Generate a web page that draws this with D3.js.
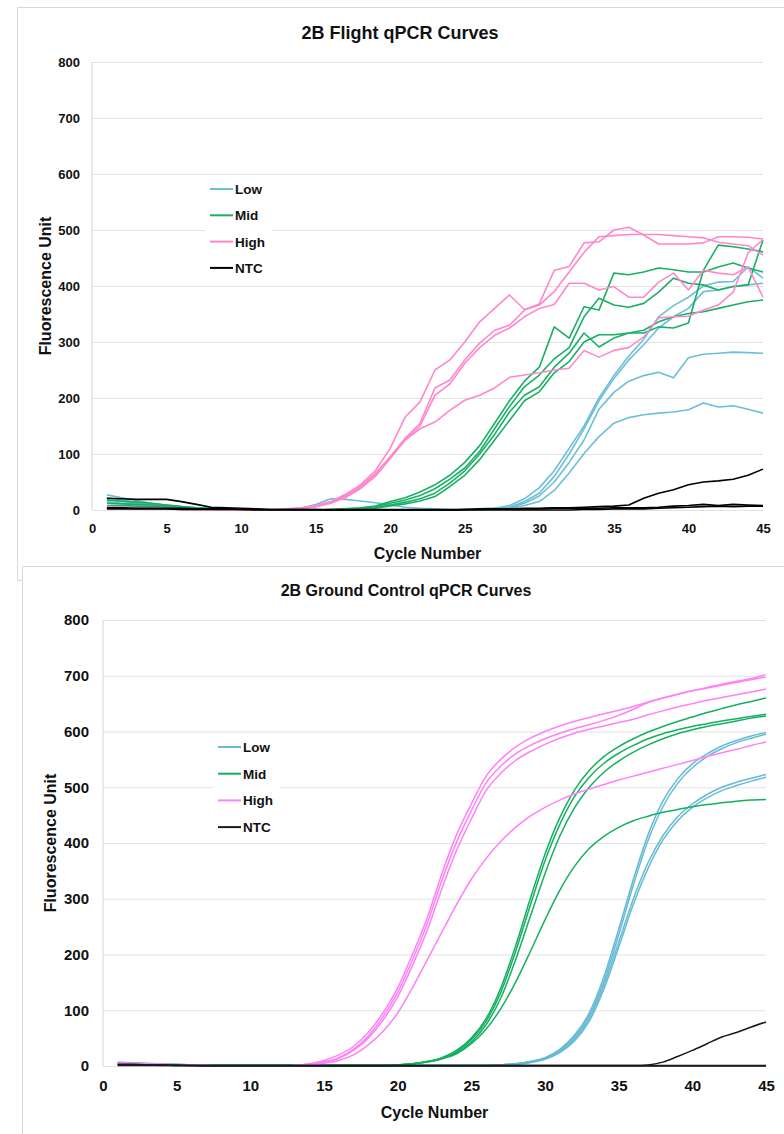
<!DOCTYPE html>
<html>
<head>
<meta charset="utf-8">
<script src="https://cdn.jsdelivr.net/npm/d3@7"></script>
<style>
  html, body { margin: 0; padding: 0; background: #fff; }
  svg { display: block; font-family: "Liberation Sans", Arial, sans-serif; }
</style>
</head>
<body>
<svg id="chart" width="784" height="1134"></svg>
<script>
// ---------------- DATA ----------------
const cycles = [1,2,3,4,5,6,7,8,9,10,11,12,13,14,15,16,17,18,19,20,21,22,23,24,25,26,27,28,29,30,31,32,33,34,35,36,37,38,39,40,41,42,43,44,45];
const xTicks = [0,5,10,15,20,25,30,35,40,45];
const yTicks = [0,100,200,300,400,500,600,700,800];
const legendLabels = ["Low","Mid","High","NTC"];

// Flight chart (top)
const flightLow = [
  [27,22,17,12,8,5,3,2,1,1,0,0, 0,0,0,0,0,0,0,0,0,0,0,0,1,2, 3,8,20,40,70,110,150,200,240,275,305,345,365,380,400,407,408,434,414],
  [22,18,14,11,9,6,4,3,2,1,1,0, 1,3,10,20,19,16,13,9,5,3,2,1,1,2, 3,5,15,30,60,100,145,195,235,268,295,325,345,360,390,393,399,402,405],
  [18,15,12,10,8,6,4,2,1,1,0,0, 0,0,0,0,0,0,0,0,0,0,0,0,1,2, 3,5,12,25,50,85,125,180,210,230,240,246,236,272,278,280,282,281,280],
  [15,12,10,8,6,4,3,2,1,0,0,0, 0,0,0,0,0,0,0,0,0,0,0,0,1,1, 2,4,8,15,35,66,101,131,155,165,170,173,175,179,191,184,186,180,173]
];
const flightMid = [
  [18,16,14,12,9,6,4,3,2,1,1,0, 0,0,0,1,2,4,7, 15,22,32,45,62,85,115,155,195,230,255,327,307,363,357,423,420,425,432,429,425,425,434,441,432,425],
  [12,11,10,9,7,5,3,2,1,1,0,0, 0,0,0,1,2,3,6, 12,18,26,38,55,75,105,145,185,220,241,270,290,345,378,366,362,369,389,414,405,402,393,399,402,482],
  [8,8,7,6,5,4,3,2,1,0,0,0, 0,0,0,0,1,2,4, 9,14,20,30,48,70,100,135,175,205,220,255,280,316,291,307,316,316,327,325,334,428,473,470,466,461],
  [5,5,4,4,3,3,2,1,1,0,0,0, 0,0,0,0,1,2,3, 7,11,16,24,42,62,90,125,160,195,211,245,265,300,313,313,316,321,336,345,351,354,360,366,372,375]
];
const flightHigh = [
  [6,5,4,3,3,2,2,1,1,0,0,0, 2,4,8,15,28,45,70,110,166,193, 250,268,300,336,360,384,358,368,428,435, 477,479,500,505,491,475,475,475,477,488, 488,487,484],
  [4,3,3,2,2,1,1,1,0,0,0,0, 1,3,6,12,24,40,62,95,128,155, 218,232,268,298,321,330,357,366,390,425, 460,488,490,492,492,492,490,488,486,478, 475,472,455],
  [3,3,2,2,2,1,1,1,0,0,0,0, 1,3,6,12,22,38,60,92,125,150, 205,225,262,290,312,325,345,360,367,405, 405,393,399,380,380,407,423,393,428,423, 420,434,380],
  [5,4,3,3,2,2,1,1,1,0,0,0, 1,3,7,14,26,42,65,95,125,145, 157,178,196,205,218,237,241,245,250,253, 285,273,285,290,309,343,345,346,357,366, 389,459,483]
];
const flightNTC = [
  [21,20,19,19,19,15,10,5,4,3,2,1, 1,1,1,0,0,0,0,0,0,0,0,0,1,1,2,2,3,3,4,4, 5,6,7,9,21,30,36,45,50,52,55,62,73],
  [4,4,3,3,3,3,2,2,2,1,1,1, 1,1,1,1,1,1,1,1,1,1,1,1,1,2,2,2,2,2,3,3, 3,3,4,4,4,5,7,8,10,8,10,9,8],
  [2,2,2,2,2,1,1,1,1,1,0,0, 0,0,0,0,0,0,0,0,0,0,0,0,0,0,0,0,0,0,0,0, 1,1,2,2,2,3,4,5,6,7,6,7,7]
];

// Ground control chart (bottom)
const groundLow = [
  [7,6,5,4,3,2,2,1,1,1,1,1, 1,1,1,1,1,1,1,1,1,1,1,1,1,1, 2,4,8,15,30,55,95,160,245,335,415,475,515,542,560,574,584,592,598],
  [6,5,4,3,3,2,2,1,1,1,1,1, 1,1,1,1,1,1,1,1,1,1,1,1,1,1, 2,4,8,14,28,52,90,152,235,325,405,465,507,535,555,569,580,588,595],
  [5,5,4,3,2,2,1,1,1,1,1,1, 1,1,1,1,1,1,1,1,1,1,1,1,1,1, 2,4,7,13,26,48,85,145,222,300,365,413,447,470,487,500,509,516,523],
  [4,4,3,3,2,2,1,1,1,1,1,1, 1,1,1,1,1,1,1,1,1,1,1,1,1,1, 2,3,6,12,24,45,80,138,213,290,355,405,440,464,481,494,503,511,518]
];
const groundMid = [
  [3,3,2,2,2,1,1,1,1,1,1,1, 1,1,1,1,1,1,1, 2,4,8,15,28,50,85,140,215,300,380,445,495,530,555,573,587,599,609,618,626,634,641,648,654,660],
  [3,3,2,2,2,1,1,1,1,1,1,1, 1,1,1,1,1,1,1, 2,4,8,14,26,47,80,132,205,288,368,433,483,518,543,561,575,587,596,603,609,614,619,623,627,631],
  [3,2,2,2,1,1,1,1,1,1,1,1, 1,1,1,1,1,1,1, 2,4,7,13,24,43,74,122,190,268,345,412,463,500,527,547,563,576,587,596,603,609,614,619,624,628],
  [2,2,2,1,1,1,1,1,1,1,1,1, 1,1,1,1,1,1,1, 2,4,7,13,22,40,66,103,150,205,262,315,358,390,412,428,440,448,455,460,465,469,472,475,477,478]
];
const groundHigh = [
  [6,5,4,3,2,1,1,0,0,0,0,0,1, 4,10,20,35,60,95,140,200,265,345,415,470,520,550,572,588,600,610,618,625,632,638,645,653,660,667,673,678,683,688,693,698],
  [5,4,3,3,2,1,1,0,0,0,0,0,1, 3,7,15,30,54,88,132,190,255,333,402,458,508,538,560,575,587,597,605,612,620,629,640,652,660,667,673,679,685,690,695,702],
  [5,4,3,2,2,1,1,0,0,0,0,0,1, 3,7,14,28,50,82,124,180,243,318,387,443,494,525,548,564,577,588,597,604,610,616,622,630,637,644,650,656,661,666,671,676],
  [4,3,3,2,1,1,1,0,0,0,0,0,1, 2,5,10,20,38,62,95,140,190,240,290,335,372,403,428,448,464,477,488,497,505,513,520,527,534,541,548,555,562,568,575,581]
];
const groundNTC = [
  [3,3,2,2,2,1,1,1,1,1,1,1,1,1,1,1,1,1,1,1,1,1,1,1,1,1,1,1,1,1,1,1,1,1,1,1, 2,7,17,28,40,52,60,70,79],
  [2,2,2,2,1,1,1,1,1,1,1,1,1,1,1,1,1,1,1,1,1,1,1,1,1,1,1,1,1,1,1,1,1,1,1,1, 1,1,1,1,1,1,1,1,1],
  [1,1,1,1,1,1,0,0,0,0,0,0,0,0,0,0,0,0,0,0,0,0,0,0,0,0,0,0,0,0,0,0,0,0,0,0, 0,0,0,0,0,0,0,0,0]
];

// ---------------- DRAW ----------------
const svg = d3.select("#chart");

// panel frames
svg.append("rect").attr("x", 17.5).attr("y", 7.5).attr("width", 800).attr("height", 573)
  .attr("fill", "#fff").attr("stroke", "#d9d9d9").attr("stroke-width", 1);
svg.append("rect").attr("x", 22.5).attr("y", 566.5).attr("width", 800).attr("height", 600)
  .attr("fill", "#fff").attr("stroke", "#d9d9d9").attr("stroke-width", 1);

function drawChart(cfg) {
  const g = svg.append("g");
  const x = d3.scaleLinear().domain([0, 45]).range([cfg.x0, cfg.x1]);
  const y = d3.scaleLinear().domain([0, 800]).range([cfg.y0, cfg.y1]);

  // gridlines + y tick labels
  const yAxis = g.append("g").attr("transform", `translate(${cfg.x0},0)`)
    .call(d3.axisLeft(y).tickValues(yTicks).tickSize(-(cfg.x1 - cfg.x0)).tickPadding(cfg.yPad).tickFormat(d3.format("d")));
  yAxis.select(".domain").remove();
  yAxis.selectAll(".tick line").attr("stroke", "#e2e2e2").attr("stroke-width", 1.2);
  yAxis.selectAll(".tick text").attr("fill", "#111").attr("font-weight", "bold")
    .attr("font-size", cfg.tickSize + "px").attr("font-family", "Liberation Sans, Arial, sans-serif");

  // left axis line
  g.append("line").attr("x1", cfg.x0).attr("x2", cfg.x0).attr("y1", cfg.y1).attr("y2", cfg.y0)
    .attr("stroke", "#dcdcdc").attr("stroke-width", 1.2);

  // x tick labels
  const xAxis = g.append("g").attr("transform", `translate(0,${cfg.y0})`)
    .call(d3.axisBottom(x).tickValues(xTicks).tickSize(0).tickPadding(cfg.xPad).tickFormat(d3.format("d")));
  xAxis.select(".domain").remove();
  xAxis.selectAll(".tick text").attr("fill", "#111").attr("font-weight", "bold")
    .attr("font-size", cfg.tickSize + "px").attr("font-family", "Liberation Sans, Arial, sans-serif");

  // lines
  const line = d3.line().x((d, i) => x(cycles[i])).y(d => y(d)).curve(cfg.curve);
  cfg.groups.forEach(grp => {
    grp.data.forEach(series => {
      g.append("path").attr("d", line(series)).attr("fill", "none")
        .attr("stroke", grp.color).attr("stroke-width", cfg.lw).attr("stroke-linejoin", "round");
    });
  });

  // title
  g.append("text").attr("x", cfg.titleX).attr("y", cfg.titleY).attr("text-anchor", "middle")
    .attr("font-weight", "bold").attr("font-size", cfg.titleSize + "px").attr("fill", "#111").text(cfg.title);
  // x title
  g.append("text").attr("x", (cfg.x0 + cfg.x1) / 2).attr("y", cfg.xTitleY).attr("text-anchor", "middle")
    .attr("font-weight", "bold").attr("font-size", cfg.axTitleSize + "px").attr("fill", "#111").text("Cycle Number");
  // y title
  g.append("text").attr("transform", `translate(${cfg.yTitleX},${cfg.yTitleCY}) rotate(-90)`)
    .attr("text-anchor", "middle").attr("font-weight", "bold").attr("font-size", cfg.axTitleSize + "px")
    .attr("fill", "#111").text("Fluorescence Unit");

  // legend
  const lg = g.append("g");
  lg.append("rect").attr("x", cfg.legX - 5).attr("y", cfg.legY - 11).attr("width", 67).attr("height", 104).attr("fill", "#fff");
  cfg.groups.forEach((grp, i) => {
    const yy = cfg.legY + i * cfg.legStep;
    lg.append("line").attr("x1", cfg.legX).attr("x2", cfg.legX + 23).attr("y1", yy).attr("y2", yy)
      .attr("stroke", grp.color).attr("stroke-width", 2);
    lg.append("text").attr("x", cfg.legX + 25).attr("y", yy + 5).attr("font-weight", "bold")
      .attr("font-size", "13.5px").attr("fill", "#111").text(legendLabels[i]);
  });
}

drawChart({
  x0: 92, x1: 763, y0: 510, y1: 62, yPad: 12, xPad: 14, tickSize: 13, lw: 1.6,
  curve: d3.curveLinear,
  title: "2B Flight qPCR Curves", titleX: 400, titleY: 39, titleSize: 18,
  xTitleY: 559, yTitleX: 51, yTitleCY: 286, axTitleSize: 16,
  legX: 210, legY: 189, legStep: 26.3,
  groups: [
    { data: flightLow, color: "#6cbfd7" },
    { data: flightMid, color: "#1aaf66" },
    { data: flightHigh, color: "#ff88cc" },
    { data: flightNTC, color: "#000000" }
  ]
});

drawChart({
  x0: 103, x1: 766, y0: 1066, y1: 620, yPad: 14, xPad: 14, tickSize: 15, lw: 1.5,
  curve: d3.curveMonotoneX,
  title: "2B Ground Control qPCR Curves", titleX: 406, titleY: 596, titleSize: 16,
  xTitleY: 1118, yTitleX: 56, yTitleCY: 843, axTitleSize: 16,
  legX: 218, legY: 747, legStep: 26.7,
  groups: [
    { data: groundLow, color: "#65bad4" },
    { data: groundMid, color: "#14b060" },
    { data: groundHigh, color: "#ff80f7" },
    { data: groundNTC, color: "#1a1a1a" }
  ]
});
</script>
</body>
</html>
